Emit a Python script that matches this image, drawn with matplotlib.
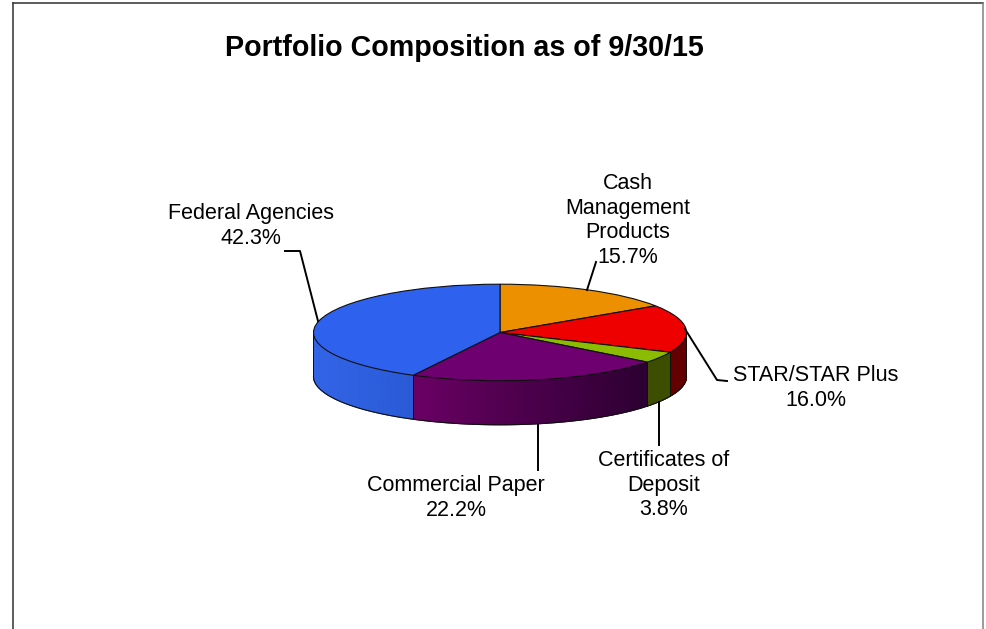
import numpy as np
import matplotlib
matplotlib.use('Agg')
import matplotlib.pyplot as plt
from matplotlib.colors import LinearSegmentedColormap

plt.rcParams['font.family'] = ['Liberation Sans', 'DejaVu Sans']

# data, clockwise from 12 o'clock
names = ['Cash\nManagement\nProducts', 'STAR/STAR Plus', 'Certificates of\nDeposit', 'Commercial Paper', 'Federal Agencies']
values = [15.7, 16.0, 3.8, 22.2, 42.3]
top_colors = ['#EC9000', '#EE0000', '#8CBC00', '#6E0070', '#2E62EE']
# wall shading from left to right of the visible part of each slice
wall_left = ['#7A4A00', '#640000', '#3E4E00', '#6A0064', '#3264E6']
wall_right = ['#7A4A00', '#640000', '#3E4E00', '#2C0032', '#2A5AD6']

W, H = 987, 629
fig = plt.figure(figsize=(W / 100, H / 100), dpi=100)

# overlay in pixel coordinates for frame, labels and leaders
over = fig.add_axes([0, 0, 1, 1], zorder=3)
over.set_xlim(0, W)
over.set_ylim(H, 0)
over.axis('off')

# pie axes, unit circle maps to the top ellipse
cx, cy, rx, ry = 500, 332.5, 186.5, 48.3
depth = 44 / ry
ax = fig.add_axes([(cx - rx) / W, 1 - (cy + ry) / H, 2 * rx / W, 2 * ry / H], zorder=2)

# side wall, only the part of each slice below the centre is visible
edges = 90 - np.cumsum([0] + values) * 3.6
for i in range(len(values)):
    t_start = min(edges[i], 0)
    t_end = max(edges[i + 1], -180)
    if t_start <= t_end:
        continue
    cmap = LinearSegmentedColormap.from_list('w', [wall_left[i], wall_right[i]])
    th = np.radians(np.linspace(t_start, t_end, 80))
    X = np.vstack([np.cos(th), np.cos(th)])
    Y = np.vstack([np.sin(th), np.sin(th) - depth])
    C = np.vstack([X[0], X[0]])
    ax.pcolormesh(X, Y, C, shading='gouraud', cmap=cmap, clip_on=False, zorder=1)
    ax.plot(X[1], Y[1], color='#101010', lw=0.8, clip_on=False, zorder=2)
    ax.plot(X[:, 0], Y[:, 0], color='#101010', lw=0.7, clip_on=False, zorder=2)
    ax.plot(X[:, -1], Y[:, -1], color='#101010', lw=0.7, clip_on=False, zorder=2)

wedges, _ = ax.pie(values, colors=top_colors, startangle=90, counterclock=False, radius=1,
                   wedgeprops=dict(edgecolor='#101010', linewidth=0.8, zorder=3))
for w in wedges:
    w.set_clip_on(False)
ax.set_aspect('auto')
ax.set_xlim(-1, 1)
ax.set_ylim(-1, 1)
ax.axis('off')

# frame
over.plot([12.5, 12.5], [H, 2.5], color='#303030', lw=1.1)
over.plot([12.5, 983], [2.5, 2.5], color='#303030', lw=1.1)
over.plot([983, 983], [2.5, H], color='#808080', lw=1.1)

over.text(464, 48, 'Portfolio Composition as of 9/30/15', fontsize=20.6, fontweight='bold', ha='center', va='center', color='black')

fs = 15.5
label_pos = [(628, 220.5), (816, 388), (663.5, 485), (456, 498), (251, 226)]
for name, v, (x, y) in zip(names, values, label_pos):
    over.text(x, y, f'{name}\n{v:.1f}%', fontsize=fs, ha='center', va='center', linespacing=1.23, color='black')

# leaders
leaders = [
    [(596, 262), (587, 290)],
    [(685, 329), (717, 380), (727, 381)],
    [(658.5, 402), (658.5, 445)],
    [(538.3, 425), (538.3, 470)],
    [(285, 251), (300, 251), (318, 321)],
]
for pts in leaders:
    pts = np.array(pts)
    over.plot(pts[:, 0], pts[:, 1], color='black', lw=1.4, solid_joinstyle='round')

fig.savefig('out.png', dpi=100)
